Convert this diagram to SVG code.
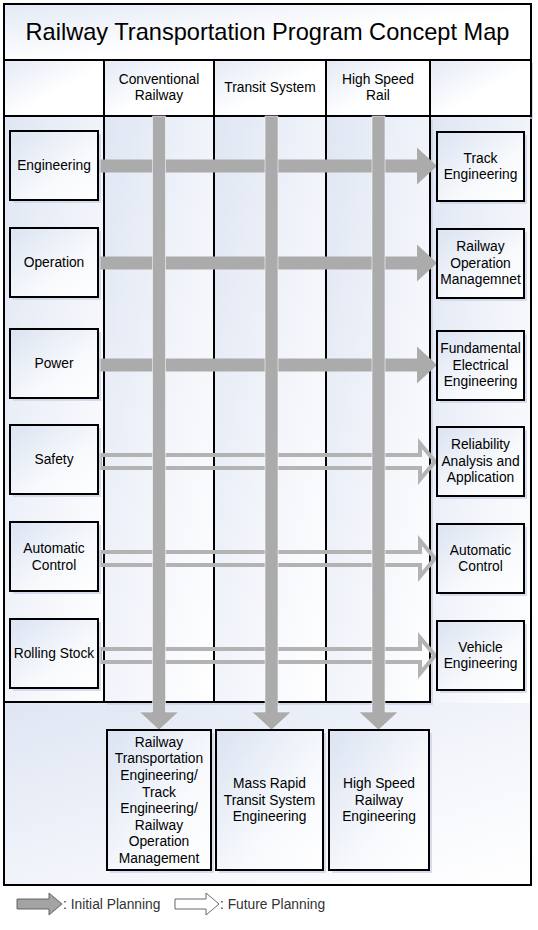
<svg xmlns="http://www.w3.org/2000/svg" width="538" height="930" viewBox="0 0 538 930">
<defs>
<linearGradient id="gLane" x1="0" y1="0" x2="1" y2="1">
<stop offset="0" stop-color="#dfe6f3"/>
<stop offset="0.6" stop-color="#f4f6fb"/>
<stop offset="1" stop-color="#ffffff"/>
</linearGradient>
<linearGradient id="gHead" x1="0" y1="0" x2="1" y2="1">
<stop offset="0" stop-color="#e3e9f5"/>
<stop offset="0.55" stop-color="#ffffff"/>
<stop offset="1" stop-color="#ffffff"/>
</linearGradient>
<linearGradient id="gNode" x1="0" y1="0" x2="1" y2="1">
<stop offset="0" stop-color="#dbe3f2"/>
<stop offset="0.6" stop-color="#f7f9fc"/>
<stop offset="1" stop-color="#ffffff"/>
</linearGradient>
<style>
.ln{fill:url(#gLane);stroke:#000;stroke-width:2}
.hd{fill:url(#gHead);stroke:#000;stroke-width:2}
.nd{fill:url(#gNode);stroke:#000;stroke-width:2}
.sh{fill:#c9d3e8;opacity:0.75}
.bar{fill:#ababab}
.vbar{fill:#ababab;stroke:#ffffff;stroke-width:0.7;stroke-opacity:0.8}
.hol{fill:none;stroke:#b3b3b3;stroke-width:4;stroke-linejoin:miter}
.t{font-family:"Liberation Sans",Arial,sans-serif;font-size:13.8px;fill:#000;text-anchor:middle}
.ttl{font-family:"Liberation Sans",Arial,sans-serif;font-size:23.6px;fill:#000;text-anchor:middle}
.lg{font-family:"Liberation Sans",Arial,sans-serif;font-size:13.8px;fill:#333}
</style>
</defs>

<g id="frame">
<rect x="4" y="4" width="527" height="881" fill="#ffffff" stroke="#000" stroke-width="2"/>
<rect x="5" y="703" width="525" height="181" fill="url(#gLane)"/>
<rect x="4" y="4" width="527" height="56" class="hd"/>
<text class="ttl" x="267.5" y="40">Railway Transportation Program Concept Map</text>
</g>

<g id="lanes">
<rect x="433" y="63" width="100" height="56" class="sh"/>
<rect x="4" y="60" width="100" height="56" class="hd"/>
<rect x="104" y="60" width="110" height="56" class="hd"/>
<rect x="214" y="60" width="112" height="56" class="hd"/>
<rect x="326" y="60" width="104" height="56" class="hd"/>
<rect x="430" y="60" width="101" height="56" class="hd"/>
<rect x="431" y="117" width="99" height="586" fill="url(#gLane)"/>
<line x1="430" y1="116" x2="430" y2="702" stroke="#000" stroke-width="2"/>
<rect x="107" y="119" width="326" height="586" class="sh"/>
<rect x="4" y="116" width="100" height="586" class="ln"/>
<rect x="104" y="116" width="110" height="586" class="ln"/>
<rect x="214" y="116" width="112" height="586" class="ln"/>
<rect x="326" y="116" width="104" height="586" class="ln"/>
<text class="t" x="159" y="83.5">Conventional</text>
<text class="t" x="159" y="100">Railway</text>
<text class="t" x="270" y="91.5">Transit System</text>
<text class="t" x="378" y="83.5">High Speed</text>
<text class="t" x="378" y="100">Rail</text>
</g>

<g id="connectors">
<polygon class="bar" points="98,159.5 417,159.5 417,147.5 437,166 417,184.5 417,172.5 98,172.5"/>
<polygon class="bar" points="98,256.5 417,256.5 417,244.5 437,263 417,281.5 417,269.5 98,269.5"/>
<polygon class="bar" points="98,358.5 417,358.5 417,346.5 437,365 417,383.5 417,371.5 98,371.5"/>
<polygon class="hol" points="100,455 420,455 420,443.5 435,461.5 420,479.5 420,468 100,468"/>
<polygon class="hol" points="100,552 420,552 420,540.5 435,558.5 420,576.5 420,565 100,565"/>
<polygon class="hol" points="100,649 420,649 420,637.5 435,655.5 420,673.5 420,662 100,662"/>
<polygon class="vbar" points="152.5,116 165.5,116 165.5,712 178.5,712 159,730 139.5,712 152.5,712"/>
<polygon class="vbar" points="265,116 278,116 278,712 291,712 271.5,730 252,712 265,712"/>
<polygon class="vbar" points="372,116 385,116 385,712 398,712 378.5,730 359,712 372,712"/>
</g>

<g id="n-engineering"><rect x="13" y="134" width="88" height="69" class="sh"/><rect x="10" y="131" width="88" height="69" class="nd"/><text class="t" x="54" y="170.3">Engineering</text></g>
<g id="n-operation"><rect x="13" y="231" width="88" height="69" class="sh"/><rect x="10" y="228" width="88" height="69" class="nd"/><text class="t" x="54" y="267.3">Operation</text></g>
<g id="n-power"><rect x="13" y="332" width="88" height="69" class="sh"/><rect x="10" y="329" width="88" height="69" class="nd"/><text class="t" x="54" y="368.3">Power</text></g>
<g id="n-safety"><rect x="13" y="428" width="88" height="69" class="sh"/><rect x="10" y="425" width="88" height="69" class="nd"/><text class="t" x="54" y="464.3">Safety</text></g>
<g id="n-autocontrol"><rect x="13" y="525" width="88" height="69" class="sh"/><rect x="10" y="522" width="88" height="69" class="nd"/><text class="t" x="54" y="553">Automatic</text><text class="t" x="54" y="569.5">Control</text></g>
<g id="n-rolling"><rect x="13" y="622" width="88" height="69" class="sh"/><rect x="10" y="619" width="88" height="69" class="nd"/><text class="t" x="54" y="658.3">Rolling Stock</text></g>

<g id="n-track"><rect x="440" y="135" width="87" height="69" class="sh"/><rect x="437" y="132" width="87" height="69" class="nd"/><text class="t" x="480.5" y="162.8">Track</text><text class="t" x="480.5" y="179.3">Engineering</text></g>
<g id="n-rom"><rect x="440" y="232" width="87" height="69" class="sh"/><rect x="437" y="229" width="87" height="69" class="nd"/><text class="t" x="480.5" y="251.3">Railway</text><text class="t" x="480.5" y="267.8">Operation</text><text class="t" x="480.5" y="284.3">Managemnet</text></g>
<g id="n-fee"><rect x="440" y="334" width="87" height="69" class="sh"/><rect x="437" y="331" width="87" height="69" class="nd"/><text class="t" x="480.5" y="353.3">Fundamental</text><text class="t" x="480.5" y="369.8">Electrical</text><text class="t" x="480.5" y="386.3">Engineering</text></g>
<g id="n-reliability"><rect x="440" y="430" width="87" height="69" class="sh"/><rect x="437" y="427" width="87" height="69" class="nd"/><text class="t" x="480.5" y="449.3">Reliability</text><text class="t" x="480.5" y="465.8">Analysis and</text><text class="t" x="480.5" y="482.3">Application</text></g>
<g id="n-autocontrol2"><rect x="440" y="527" width="87" height="69" class="sh"/><rect x="437" y="524" width="87" height="69" class="nd"/><text class="t" x="480.5" y="554.8">Automatic</text><text class="t" x="480.5" y="571.3">Control</text></g>
<g id="n-vehicle"><rect x="440" y="624" width="87" height="69" class="sh"/><rect x="437" y="621" width="87" height="69" class="nd"/><text class="t" x="480.5" y="651.8">Vehicle</text><text class="t" x="480.5" y="668.3">Engineering</text></g>

<g id="n-conventional-out"><rect x="110" y="733" width="104" height="140" class="sh"/><rect x="107" y="730" width="104" height="140" class="nd"/>
<text class="t" x="159" y="746.7">Railway</text><text class="t" x="159" y="763.3">Transportation</text><text class="t" x="159" y="779.9">Engineering/</text><text class="t" x="159" y="796.5">Track</text><text class="t" x="159" y="813.1">Engineering/</text><text class="t" x="159" y="829.7">Railway</text><text class="t" x="159" y="846.3">Operation</text><text class="t" x="159" y="862.9">Management</text></g>
<g id="n-mrt-out"><rect x="219" y="733" width="107" height="140" class="sh"/><rect x="216" y="730" width="107" height="140" class="nd"/>
<text class="t" x="269.5" y="788.3">Mass Rapid</text><text class="t" x="269.5" y="804.8">Transit System</text><text class="t" x="269.5" y="821.3">Engineering</text></g>
<g id="n-hsr-out"><rect x="332" y="733" width="100" height="140" class="sh"/><rect x="329" y="730" width="100" height="140" class="nd"/>
<text class="t" x="379" y="788.3">High Speed</text><text class="t" x="379" y="804.8">Railway</text><text class="t" x="379" y="821.3">Engineering</text></g>

<g id="legend">
<polygon points="17,899 49,899 49,893 62,904 49,915 49,909 17,909" fill="#a3a3a3" stroke="#5a5a5a" stroke-width="0.9"/>
<text class="lg" x="63" y="909">: Initial Planning</text>
<polygon points="175,899 206,899 206,893 219,904 206,915 206,909 175,909" fill="#ffffff" stroke="#5a5a5a" stroke-width="0.9"/>
<text class="lg" x="220" y="909">: Future Planning</text>
</g>
</svg>
